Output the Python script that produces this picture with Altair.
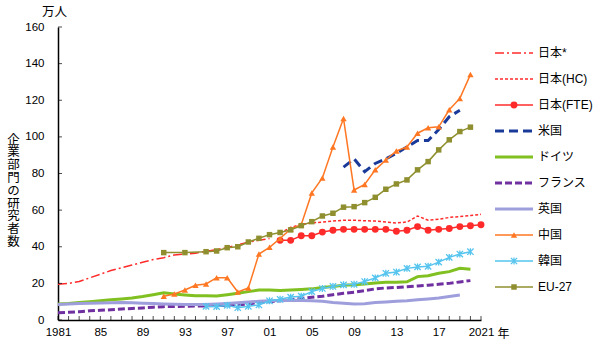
import altair as alt
import pandas as pd

# ---------------- data (万人) ----------------
years_jp_star = list(range(1981, 2002))
jp_star = [19.5, 20, 21, 23, 25, 27, 28.5, 30, 31.5, 33, 34, 35.5, 36, 36.5,
           37.5, 38.5, 39.5, 41, 42.5, 43.5, 44.5]

years_jp = list(range(2002, 2022))
jp_hc = [47.5, 50.5, 52.3, 53, 53.5, 54, 54.5, 54.5, 54.2, 54, 53.5, 53, 53.5,
         56.8, 54.5, 55, 56, 56.5, 57, 57.7]
jp_fte = [43.5, 43.5, 46, 46, 48, 49, 49.5, 49.5, 49.5, 49.5, 49.5, 48.5, 49,
          51, 49, 49.5, 50, 51, 51.5, 52]

years_us = list(range(2008, 2020))
us = [83.5, 88, 81, 85.5, 88, 91, 94.5, 98, 98, 104, 111, 114.5]

years_de = list(range(1981, 2021))
de = [8.7, 9, 9.5, 10, 10.5, 11, 11.5, 12, 12.8, 13.8,
      14.9, 14.2, 13.7, 13.3, 13.3, 13.1, 13.8, 14.6, 15.5, 16.4,
      16.4, 16.1, 16.4, 16.7, 17, 17.8, 18.3, 19, 19.3, 19.7,
      20.2, 20.6, 20.6, 20.9, 23.7, 24.2, 25.5, 26.4, 28.2, 27.7]

years_fr = list(range(1981, 2021))
fr = [4, 4.2, 4.5, 5, 5.3, 5.6, 6, 6.3, 6.6, 7,
      7.3, 7.4, 7.5, 7.6, 7.7, 7.9, 8, 8.2, 8.8, 9.5,
      10, 10.5, 11, 11.8, 12.4, 13, 13.8, 14.6, 15.2, 16,
      17, 17.5, 17.8, 18.2, 18.6, 19, 19.5, 20, 20.8, 21.5]

years_uk = list(range(1981, 2020))
uk = [8.5, 8.8, 9, 9.2, 9.3, 9.4, 9.5, 9.4, 9.2, 9.0,
      8.8, 8.6, 8.5, 8.5, 8.5, 8.7, 9, 9.4, 9.8, 10.2,
      10.5, 10.7, 10.8, 10.7, 10.5, 10.2, 9.6, 9.2, 8.8, 8.9,
      9.5, 9.8, 10.2, 10.5, 11, 11.5, 12, 12.8, 13.7]

years_cn = list(range(1991, 2021))
cn = [13, 14.2, 16.4, 19, 19.7, 23.1, 23.1, 15.3, 17.5, 36,
      39.7, 44.5, 49.7, 52, 69.4, 77.6, 94.5, 110, 71, 74,
      82, 87.4, 92.3, 94.5, 102, 105, 105.5, 114.8, 121, 134]

years_kr = list(range(1995, 2021))
kr = [7.5, 7.3, 8, 6.7, 7.5, 8.2,
      10.5, 11.3, 12.5, 13, 15.5, 17.2, 18.3, 19.2, 19.5, 21,
      23, 25.5, 26.2, 28.2, 29, 29.3, 31.6, 34.2, 36, 37.3]

years_eu = [1991, 1993, 1995] + list(range(1996, 2021))
eu = [36.8, 36.8, 37.3, 37.7, 39.5, 40, 42.6, 44.6,
      46.6, 47.8, 49.2, 51.5, 53.7, 56.8, 58.3, 61.6, 61.9, 64.1,
      67, 71.4, 74.3, 76.5, 82, 86.5, 92.9, 98.4, 102.9, 105.3]

x_tick_years = list(range(1981, 2022))
x_label_years = list(range(1981, 2022, 4))
y_tick_values = list(range(0, 161, 20))
y_title_chars = list("企業部門の研究者数")

FONT = "Liberation Sans, Noto Sans CJK JP, sans-serif"

# name, years, values, color, dash, width, marker
KR_SHAPE = "M-1,-1L1,1M-1,1L1,-1M0,-1.1L0,1.1"
series = [
    ("日本*", years_jp_star, jp_star, "#FF2B2B", [9, 3, 2, 3], 1.5, None),
    ("日本(HC)", years_jp, jp_hc, "#FF2B2B", [3, 2], 1.5, None),
    ("日本(FTE)", years_jp, jp_fte, "#FF2B2B", None, 1.5, "circle"),
    ("米国", years_us, us, "#1A3A9A", [9, 5], 3, None),
    ("ドイツ", years_de, de, "#80C020", None, 3, None),
    ("フランス", years_fr, fr, "#7030A0", [7, 3], 3, None),
    ("英国", years_uk, uk, "#9E9EDC", None, 3, None),
    ("中国", years_cn, cn, "#FF7722", None, 1.5, "triangle-up"),
    ("韓国", years_kr, kr, "#55C4EE", None, 1.5, KR_SHAPE),
    ("EU-27", years_eu, eu, "#8F8F2F", None, 1.5, "square"),
]

# ---------------- main plot ----------------
xaxis = alt.Axis(
    values=x_label_years,
    labelExpr="datum.value == 1981 || datum.value == 2021 ? '' + datum.value : slice('' + datum.value, 2)",
    title="年", titleX=445, titleY=13, titleAngle=0, titleAlign="center",
    titleBaseline="middle", titleFontSize=12, titleFontWeight="normal",
    titleColor="black", titleFont=FONT,
    grid=False, ticks=False, tickSize=0, labelPadding=6, labelFontSize=11.5,
    labelColor="black", labelFont=FONT, domainColor="black", domainWidth=1.5,
    labelFlush=False, labelOverlap=False,
)
yaxis = alt.Axis(
    values=y_tick_values, format="d",
    title=y_title_chars, titleAngle=0, titleX=-45, titleY=112,
    titleAlign="center", titleBaseline="middle", titleLineHeight=12.8,
    titleFontSize=12.5, titleFontWeight="normal", titleColor="black",
    titleFont=FONT,
    grid=False, ticks=False, tickSize=0, labelPadding=14, labelFontSize=11.5,
    labelColor="black", labelFont=FONT, domainColor="black", domainWidth=1.5,
)
X = lambda f: alt.X(f, scale=alt.Scale(domain=[1981, 2021], nice=False, zero=False), axis=xaxis)
Y = lambda f: alt.Y(f, scale=alt.Scale(domain=[0, 160], nice=False), axis=yaxis)

main_layers = []
for name, yrs, vals, color, dash, width, marker in series:
    df = pd.DataFrame({"year": yrs, "value": vals})
    kw = dict(color=color, strokeWidth=width)
    if dash:
        kw["strokeDash"] = dash
    main_layers.append(alt.Chart(df).mark_line(**kw).encode(x=X("year:Q"), y=Y("value:Q")))
    if marker == "circle":
        main_layers.append(alt.Chart(df).mark_circle(color=color, size=48, opacity=1)
                           .encode(x=X("year:Q"), y=Y("value:Q")))
    elif marker == "square":
        main_layers.append(alt.Chart(df).mark_square(color=color, size=30, opacity=1)
                           .encode(x=X("year:Q"), y=Y("value:Q")))
    elif marker == "triangle-up":
        main_layers.append(alt.Chart(df).mark_point(shape="triangle-up", filled=True, color=color,
                                                    size=40, opacity=1)
                           .encode(x=X("year:Q"), y=Y("value:Q")))
    elif marker:
        main_layers.append(alt.Chart(df).mark_point(shape=marker, filled=False, color=color,
                                                    size=40, strokeWidth=1.3, opacity=1)
                           .encode(x=X("year:Q"), y=Y("value:Q")))

# minor ticks (inside)
xt = pd.DataFrame({"year": x_tick_years, "value": [0] * len(x_tick_years)})
main_layers.append(alt.Chart(xt).mark_tick(orient="vertical", size=4, thickness=1,
                                           color="black", yOffset=-2)
                   .encode(x=X("year:Q"), y=Y("value:Q")))
yt = pd.DataFrame({"year": [1981] * len(y_tick_values), "value": y_tick_values})
main_layers.append(alt.Chart(yt).mark_tick(orient="horizontal", size=4, thickness=1,
                                           color="black", xOffset=2)
                   .encode(x=X("year:Q"), y=Y("value:Q")))

main = alt.layer(*main_layers)

# ---------------- legend (own scales) ----------------
LX = lambda f: alt.X(f, scale=alt.Scale(domain=[0, 1], range=[437, 475]), axis=None)
LY = lambda f: alt.Y(f, scale=alt.Scale(domain=[0, 9], range=[26, 260]), axis=None)

leg_layers = []
for i, (name, yrs, vals, color, dash, width, marker) in enumerate(series):
    row = pd.DataFrame({"x0": [0.0], "x1": [1.0], "xm": [0.5], "idx": [i], "name": [name]})
    kw = dict(color=color, strokeWidth=width)
    if dash:
        kw["strokeDash"] = dash
    leg_layers.append(alt.Chart(row).mark_rule(**kw).encode(x=LX("x0:Q"), x2="x1:Q", y=LY("idx:Q")))
    if marker == "circle":
        leg_layers.append(alt.Chart(row).mark_circle(color=color, size=48, opacity=1)
                          .encode(x=LX("xm:Q"), y=LY("idx:Q")))
    elif marker == "square":
        leg_layers.append(alt.Chart(row).mark_square(color=color, size=30, opacity=1)
                          .encode(x=LX("xm:Q"), y=LY("idx:Q")))
    elif marker == "triangle-up":
        leg_layers.append(alt.Chart(row).mark_point(shape="triangle-up", filled=True, color=color,
                                                    size=40, opacity=1)
                          .encode(x=LX("xm:Q"), y=LY("idx:Q")))
    elif marker:
        leg_layers.append(alt.Chart(row).mark_point(shape=marker, filled=False, color=color,
                                                    size=40, strokeWidth=1.3, opacity=1)
                          .encode(x=LX("xm:Q"), y=LY("idx:Q")))

names_df = pd.DataFrame({"x1": [1.0] * len(series), "idx": list(range(len(series))),
                         "name": [s[0] for s in series]})
leg_layers.append(alt.Chart(names_df).mark_text(align="left", baseline="middle", dx=5,
                                                fontSize=12, color="black", font=FONT)
                  .encode(x=LX("x1:Q"), y=LY("idx:Q"), text="name:N"))
legend = alt.layer(*leg_layers)

chart = (
    alt.layer(main, legend)
    .resolve_scale(x="independent", y="independent")
    .properties(
        width=423, height=293,
        autosize=alt.AutoSizeParams(type="none"),
        padding={"left": 58, "top": 27, "right": 122, "bottom": 34},
        title=alt.TitleParams("万人", anchor="start", frame="group", dx=-16, dy=18, offset=15,
                              baseline="middle", fontSize=12.5, fontWeight="normal",
                              color="black", font=FONT),
    )
    .configure(font=FONT, background="white")
    .configure_view(stroke=None)
)

chart.save("out.html", embed_options={"renderer": "svg", "actions": False})
